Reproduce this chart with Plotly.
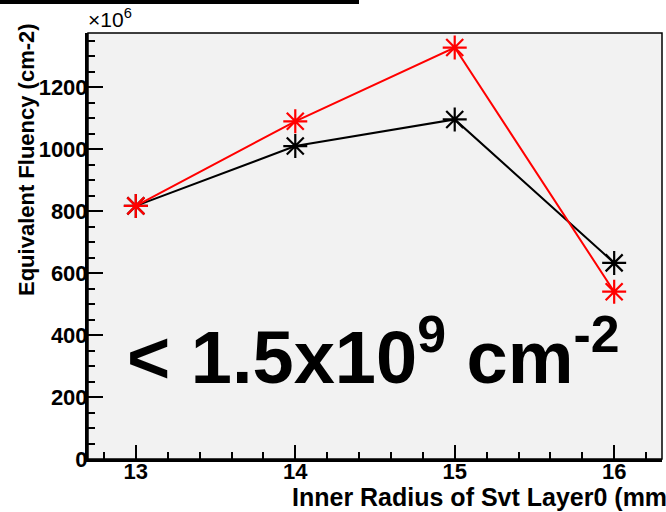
import plotly.graph_objects as go

# Inner radius of the Svt Layer0 (mm)
radius = [13, 14, 15, 16]
# Equivalent fluency in units of 1e6 cm^-2
fluency_black = [817, 1010, 1096, 633]
fluency_red = [817, 1090, 1328, 540]

FONT = "Liberation Sans, Arial, Helvetica, sans-serif"

fig = go.Figure()

for vals, col in [(fluency_black, "black"), (fluency_red, "#ff0000")]:
    fig.add_trace(go.Scatter(
        x=radius, y=vals, mode="lines+markers",
        line=dict(color=col, width=2),
        marker=dict(symbol="asterisk-open", size=20,
                    line=dict(color=col, width=2.2), color=col),
        showlegend=False,
    ))

axis_font = dict(family=FONT, size=22, color="black", weight="bold")

fig.update_layout(
    width=666, height=512,
    margin=dict(l=88, r=4, t=33, b=53),
    paper_bgcolor="white",
    plot_bgcolor="#f2f2f2",
    xaxis=dict(
        range=[12.7, 16.3], tickvals=radius, ticktext=[str(r) for r in radius],
        ticks="inside", ticklen=14, tickwidth=2, tickcolor="black",
        minor=dict(dtick=0.2, tick0=12.8, ticks="inside", ticklen=7,
                   tickwidth=2, tickcolor="black", showgrid=False),
        showgrid=False, zeroline=False,
        showline=True, linewidth=3, linecolor="black",
        tickfont=axis_font, ticklabelstandoff=-9,
    ),
    yaxis=dict(
        range=[0, 1375], dtick=200, tick0=0,
        ticks="inside", ticklen=15, tickwidth=2, tickcolor="black",
        minor=dict(dtick=50, ticks="inside", ticklen=7,
                   tickwidth=2, tickcolor="black", showgrid=False),
        showgrid=False, zeroline=False,
        showline=True, linewidth=3, linecolor="black",
        tickfont=axis_font, ticklabelstandoff=-7,
    ),
    shapes=[
        # thin frame around the plotting area
        dict(type="rect", xref="paper", yref="paper", x0=0, y0=0, x1=1, y1=1,
             line=dict(color="black", width=1.5), layer="above"),
        # strip left over from the title box at the top
        dict(type="rect", xref="paper", yref="paper",
             x0=-88 / 574, x1=(359 - 88) / 574,
             y0=1 + 29 / 426, y1=1 + 40 / 426,
             line=dict(width=0), fillcolor="black"),
    ],
    annotations=[
        dict(text="Equivalent Fluency (cm-2)", textangle=-90,
             xref="paper", yref="paper", x=(26 - 88) / 574, y=(459 - 160) / 426,
             xanchor="center", yanchor="middle", showarrow=False,
             font=dict(family=FONT, size=22, color="black", weight="bold")),
        dict(text="Inner Radius of Svt Layer0 (mm)",
             xref="paper", yref="paper", x=(290 - 88) / 574, y=-(497 - 459) / 426,
             xanchor="left", yanchor="middle", showarrow=False,
             font=dict(family=FONT, size=25, color="black", weight="bold")),
        dict(text="×10<sup>6</sup>",
             xref="paper", yref="paper", x=-2 / 574, y=1 + 15 / 426,
             xanchor="left", yanchor="middle", showarrow=False,
             font=dict(family=FONT, size=21, color="black")),
        dict(text="< 1.5x10<sup>9</sup> cm<sup>-2</sup>",
             xref="paper", yref="paper", x=(373 - 88) / 574, y=(459 - 352) / 426,
             xanchor="center", yanchor="middle", showarrow=False,
             font=dict(family=FONT, size=74, color="black", weight="bold")),
    ],
)

fig.write_html("out.html")
